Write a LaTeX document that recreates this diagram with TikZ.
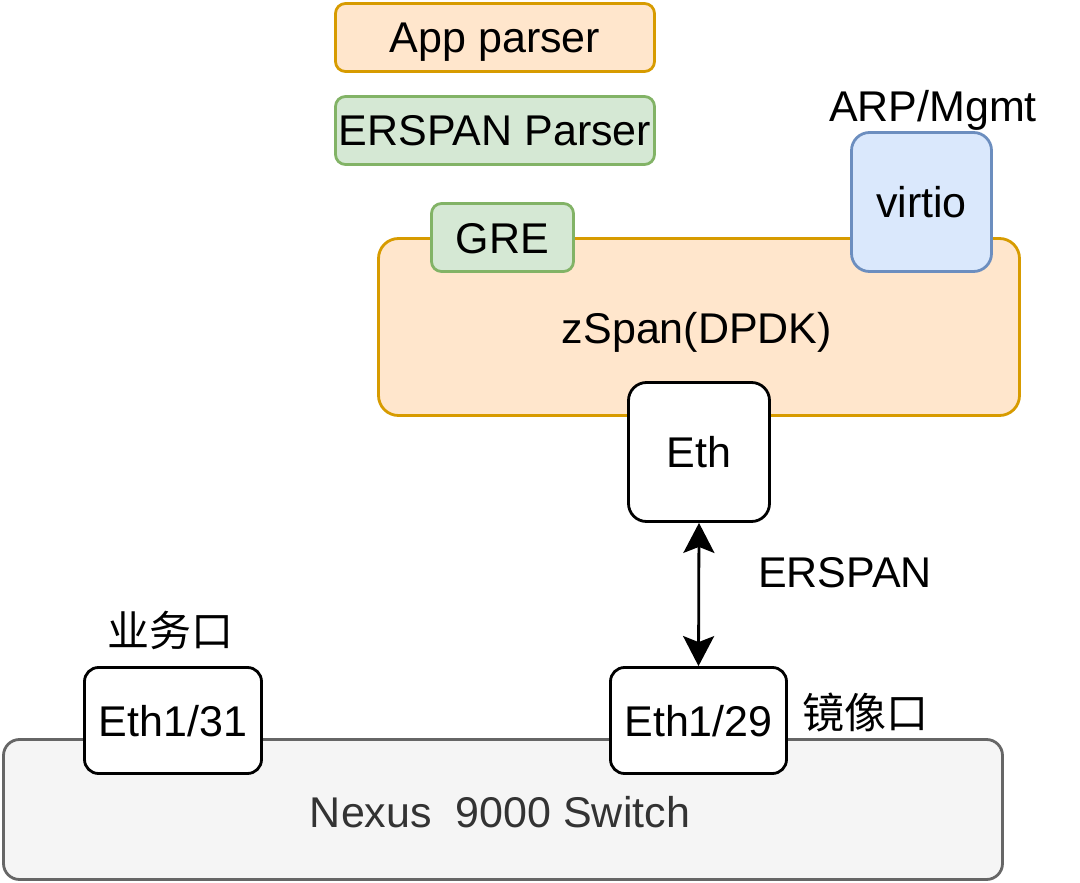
\documentclass[tikz,border=0pt]{standalone}
\usepackage{fontspec}
\setmainfont{Liberation Sans}
\newfontfamily\cjk{Noto Sans CJK SC}
\usetikzlibrary{arrows.meta}
\definecolor{orfill}{HTML}{FFE6CC}
\definecolor{orline}{HTML}{D79B00}
\definecolor{grfill}{HTML}{D5E8D4}
\definecolor{grline}{HTML}{82B366}
\definecolor{blfill}{HTML}{DAE8FC}
\definecolor{blline}{HTML}{6C8EBF}
\definecolor{gyfill}{HTML}{F5F5F5}
\definecolor{gyline}{HTML}{666666}
\definecolor{gytext}{HTML}{333333}
\tikzset{
  box/.style={draw, line width=2.8pt, inner sep=0pt, anchor=center, align=center,
    font=\fontsize{43}{50}\selectfont, text height=31pt, text depth=0pt},
  orbox/.style={box, fill=orfill, draw=orline},
  grbox/.style={box, fill=grfill, draw=grline},
  blbox/.style={box, fill=blfill, draw=blline},
  whbox/.style={box, fill=white, draw=black},
  gybox/.style={box, fill=gyfill, draw=gyline, text=gytext},
  lbl/.style={inner sep=0pt, anchor=center, font=\fontsize{43}{50}\selectfont, text height=31pt, text depth=0pt},
  cjklbl/.style={inner sep=0pt, anchor=center, font=\cjk\fontsize{42}{50}\selectfont},
}
\begin{document}
\begin{tikzpicture}[x=1pt,y=-1pt]
\useasboundingbox (0,0) rectangle (1080,883);
% switch
\node[gybox, minimum width=999pt, minimum height=140pt, rounded corners=16pt] (nexus) at (503,809.5) {};
\node[text=gytext, lbl] (nexustxt) at (500,812) {Nexus\ \ 9000 Switch};
\node[whbox, minimum width=177pt, minimum height=106pt, rounded corners=14pt] (e131) at (173,720.5) {Eth1/31};
\node[whbox, minimum width=176pt, minimum height=106pt, rounded corners=14pt] (e129) at (698.5,720.5) {Eth1/29};
% parsers
\node[orbox, minimum width=319pt, minimum height=68pt, rounded corners=10pt] (app) at (495,37.5) {App parser};
\node[grbox, minimum width=319pt, minimum height=68pt, rounded corners=10pt] (erp) at (495,130.5) {ERSPAN Parser};
% zspan
\node[orbox, minimum width=641pt, minimum height=177pt, rounded corners=20pt] (zspan) at (699,327) {};
\node[lbl] (zspantxt) at (697,328) {zSpan(DPDK)};
\node[grbox, minimum width=142pt, minimum height=68pt, rounded corners=10pt] (gre) at (502.5,237.5) {GRE};
\node[blbox, minimum width=140pt, minimum height=139pt, rounded corners=18pt] (virtio) at (921.5,202) {virtio};
\node[whbox, minimum width=141pt, minimum height=139pt, rounded corners=18pt] (eth) at (699,452) {Eth};
% labels
\node[lbl] (arp) at (933,106) {ARP/Mgmt};
\node[lbl] (erspan) at (845,572) {ERSPAN};
\node[cjklbl] (yewu) at (170,630) {业务口};
\node[cjklbl] (jingxiang) at (865,712) {镜像口};
% arrow
\draw[line width=2.8pt, {Stealth[length=30pt,width=31pt,inset=6pt]}-{Stealth[length=30pt,width=31pt,inset=6pt]}]
  (eth.south) -- (e129.north);
\end{tikzpicture}
\end{document}
